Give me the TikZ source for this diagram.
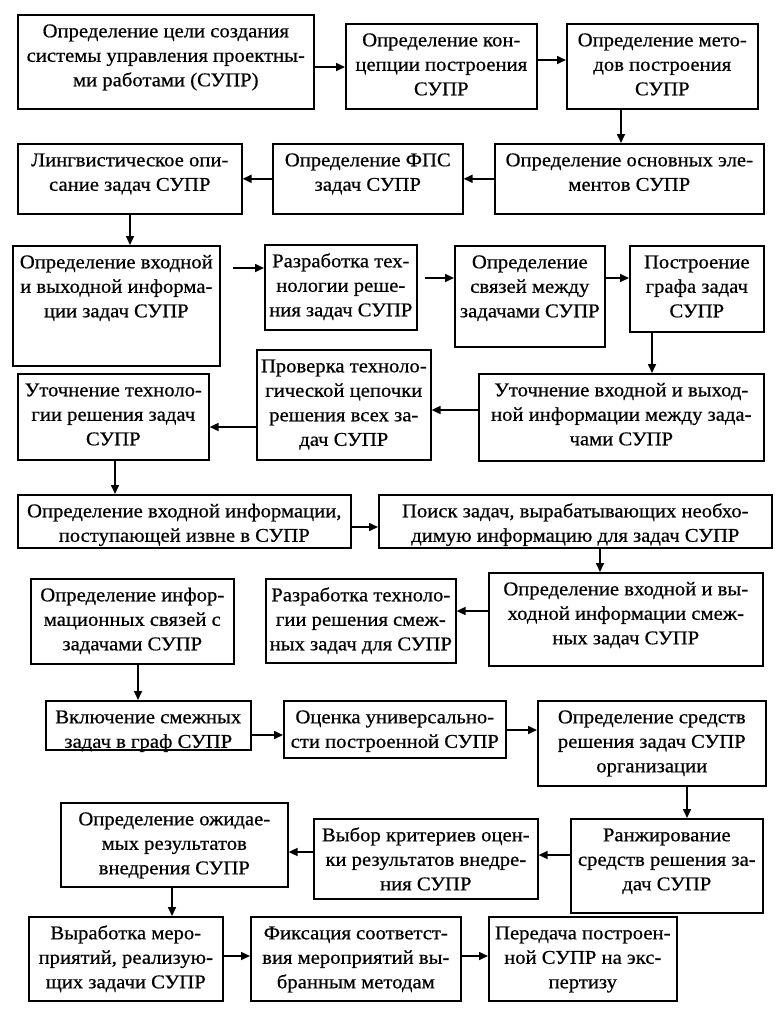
\documentclass[tikz,border=0pt]{standalone}
\usepackage{fontspec}
\setmainfont{Liberation Serif}[FakeStretch=1.06,FakeBold=0.6]
\usetikzlibrary{arrows.meta}
\tikzset{
  box/.style={draw, line width=1.6pt, inner sep=0pt, anchor=north west,
    font=\fontsize{19.5}{24.5}\selectfont},
  arr/.style={-{Triangle[length=9pt,width=8pt]}, line width=1.6pt},
}
\newcommand\bx[6]{%
  \pgfmathsetmacro\bxw{#4-#2}%
  \pgfmathsetmacro\bxh{#5-#3}%
  \node[box] (#1) at (#2,#3) {\parbox[t][\bxh pt][t]{\bxw pt}{\centering\rule{0pt}{22.5pt}#6\par}};%
}
\begin{document}
\begin{tikzpicture}[x=1pt,y=-1pt]
\useasboundingbox (0,0) rectangle (779,1023);
% row 1
\bx{b1}{17}{14}{313}{108}{Определение цели создания\\системы управления проектны-\\ми работами (СУПР)}
\bx{b2}{345}{23}{536}{108}{Определение кон-\\цепции построения\\СУПР}
\bx{b3}{566}{23}{757}{108}{Определение мето-\\дов построения\\СУПР}
% row 2
\bx{b4}{494}{143}{763}{213}{Определение основных эле-\\ментов СУПР}
\bx{b5}{272}{143}{462}{213}{Определение ФПС\\задач СУПР}
\bx{b6}{17}{143}{241}{213}{Лингвистическое опи-\\сание задач СУПР}
% row 3
\bx{b7}{12}{245}{219}{365}{Определение входной\\и выходной информа-\\ции задач СУПР}
\bx{b8}{264}{244}{416}{329}{Разработка тех-\\нологии реше-\\ния задач СУПР}
\bx{b9}{454}{245}{604}{346}{Определение\\связей между\\задачами СУПР}
\bx{b10}{629}{245}{763}{331}{Построение\\графа задач\\СУПР}
% row 4
\bx{b11}{478}{373}{763}{460}{Уточнение входной и выход-\\ной информации между зада-\\чами СУПР}
\bx{b12}{256}{349}{430}{459}{Проверка техноло-\\гической цепочки\\решения всех за-\\дач СУПР}
\bx{b13}{17}{373}{208}{459}{Уточнение техноло-\\гии решения задач\\СУПР}
% row 5
\bx{b14}{17}{494}{350}{547}{Определение входной информации,\\поступающей извне в СУПР}
\bx{b15}{378}{494}{771}{547}{Поиск задач, вырабатывающих необхо-\\димую информацию для задач СУПР}
% row 6
\bx{b18}{488}{572}{762}{665}{Определение входной и вы-\\ходной информации смеж-\\ных задач СУПР}
\bx{b17}{265}{578}{455}{662}{Разработка техноло-\\гии решения смеж-\\ных задач для СУПР}
\bx{b16}{30}{578}{233}{663}{Определение инфор-\\мационных связей с\\задачами СУПР}
% row 7
\bx{b19}{45}{700}{250}{749}{Включение смежных\\задач в граф СУПР}
\bx{b20}{283}{700}{505}{757}{Оценка универсально-\\сти построенной СУПР}
\bx{b21}{537}{700}{765}{785}{Определение средств\\решения задач СУПР\\организации}
% row 8
\bx{b24}{570}{818}{762}{912}{Ранжирование\\средств решения за-\\дач СУПР}
\bx{b23}{313}{818}{537}{898}{Выбор критериев оцен-\\ки результатов внедре-\\ния СУПР}
\bx{b22}{60}{802}{287}{886}{Определение ожидае-\\мых результатов\\внедрения СУПР}
% row 9
\bx{b25}{28}{916}{222}{1000}{Выработка меро-\\приятий, реализую-\\щих задачи СУПР}
\bx{b26}{250}{916}{460}{1000}{Фиксация соответст-\\вия мероприятий вы-\\бранным методам}
\bx{b27}{488}{916}{676}{1000}{Передача построен-\\ной СУПР на экс-\\пертизу}
% connectors
\draw[arr] (b1.east |- 0,67) -- (b2.west |- 0,67);
\draw[arr] (b2.east |- 0,60) -- (b3.west |- 0,60);
\draw[arr] (b3.south -| 621,0) -- (b4.north -| 621,0);
\draw[arr] (b4.west) -- (b4.west -| b5.east);
\draw[arr] (b5.west) -- (b5.west -| b6.east);
\draw[arr] (b6.south -| 130,0) -- (b7.north -| 130,0);
\draw[arr] (233,268) -- (b8.west |- 0,268);
\draw[arr] (425,278) -- (b9.west |- 0,278);
\draw[arr] (b9.east |- 0,278) -- (b10.west |- 0,278);
\draw[arr] (b10.south -| 652,0) -- (b11.north -| 652,0);
\draw[arr] (b11.west |- 0,410) -- (b12.east |- 0,410);
\draw[arr] (b12.west |- 0,427) -- (b13.east |- 0,427);
\draw[arr] (b13.south -| 115,0) -- (b14.north -| 115,0);
\draw[arr] (b14.east |- 0,527) -- (b15.west |- 0,527);
\draw[arr] (b15.south -| 600,0) -- (b18.north -| 600,0);
\draw[arr] (b18.west |- 0,611) -- (b17.east |- 0,611);
\draw[arr] (b16.south -| 138,0) -- (b19.north -| 138,0);
\draw[arr] (b19.east |- 0,735) -- (b20.west |- 0,735);
\draw[arr] (b20.east |- 0,730) -- (b21.west |- 0,730);
\draw[arr] (b21.south -| 687,0) -- (b24.north -| 687,0);
\draw[arr] (b24.west |- 0,855) -- (b23.east |- 0,855);
\draw[arr] (b23.west |- 0,852) -- (b22.east |- 0,852);
\draw[arr] (b22.south -| 172,0) -- (b25.north -| 172,0);
\draw[arr] (b25.east |- 0,956) -- (b26.west |- 0,956);
\draw[arr] (b26.east |- 0,956) -- (b27.west |- 0,956);
\end{tikzpicture}
\end{document}
